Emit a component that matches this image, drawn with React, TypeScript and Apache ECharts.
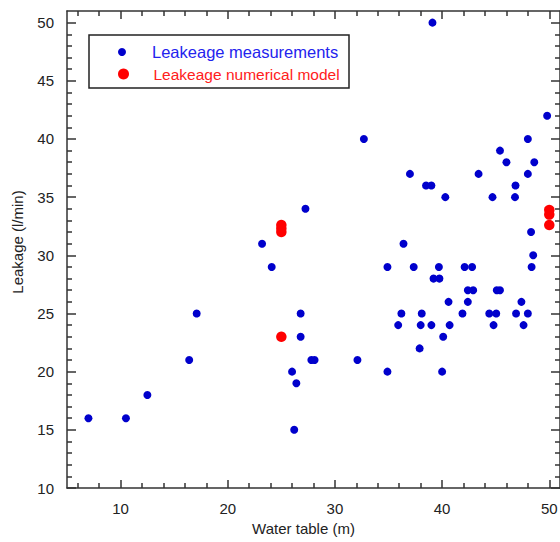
import React, { useEffect, useRef } from "react";
import * as echarts from "echarts";

const measuredX = [
  7, 10.5, 12.5, 16.4, 17.1,
  23.2, 24.1,
  26.2, 26.4, 26, 26.8, 26.8, 27.25,
  27.8, 28.1, 32.1,
  32.7,
  34.9, 34.9, 35.9, 36.2, 36.4, 37, 37.35,
  37.9, 38, 38.1, 38.5, 39, 39, 39.1,
  39.2, 39.7, 39.75, 40, 40.1, 40.3, 40.6, 40.7,
  41.9, 42.1, 42.4, 42.4, 42.8, 42.9, 43.4,
  44.4, 44.7, 44.8, 45.05, 45.1, 45.4, 45.4, 46,
  46.8, 46.85, 46.9, 47.4, 47.6, 48, 48, 48,
  48.35, 48.3, 48.5, 48.6, 49.8,
];
const measuredY = [
  16, 16, 18, 21, 25,
  31, 29,
  15, 19, 20, 23, 25, 34,
  21, 21, 21,
  40,
  20, 29, 24, 25, 31, 37, 29,
  22, 24, 25, 36, 24, 36, 50,
  28, 29, 28, 20, 23, 35, 26, 24,
  25, 29, 26, 27, 29, 27, 37,
  25, 35, 24, 25, 27, 27, 39, 38,
  35, 36, 25, 26, 24, 25, 37, 40,
  29, 32, 30, 38, 42,
];
const modelX = [25, 25, 25, 25, 50, 50, 50];
const modelY = [23, 32.0, 32.3, 32.6, 32.6, 33.5, 33.9];

const xMajorTicks = [10, 20, 30, 40, 50];
const xMinorTicks = [6, 8, 12, 14, 16, 18, 22, 24, 26, 28, 32, 34, 36, 38, 42, 44, 46, 48];
const yMajorTicks = [10, 15, 20, 25, 30, 35, 40, 45, 50];
const yMinorTicks = [
  11, 12, 13, 14, 16, 17, 18, 19, 21, 22, 23, 24, 26, 27, 28, 29,
  31, 32, 33, 34, 36, 37, 38, 39, 41, 42, 43, 44, 46, 47, 48, 49,
];

const seriesMeasured = "Leakeage measurements";
const seriesModel = "Leakeage numerical model";
const xTitle = "Water table (m)";
const yTitle = "Leakage (l/min)";

const FONT = "'Liberation Sans', Arial, sans-serif";
const AXIS_COLOR = "#333";
const TEXT_COLOR = "#222";

export default function App() {
  const ref = useRef<HTMLDivElement>(null);

  useEffect(() => {
    if (!ref.current) return;
    const chart = echarts.init(ref.current, undefined, { renderer: "svg" });

    const lineStyle = { color: AXIS_COLOR, width: 1.5 };
    const xBase = { type: "value", min: 5, max: 51, splitLine: { show: false } };
    const yBase = { type: "value", min: 10, max: 51, splitLine: { show: false } };

    chart.setOption({
      animation: false,
      backgroundColor: "#fff",
      grid: { left: 67, top: 11, width: 493, height: 477, containLabel: false },
      xAxis: [
        {
          ...xBase,
          position: "bottom",
          name: xTitle,
          nameLocation: "middle",
          nameGap: 30,
          nameTextStyle: { fontSize: 15, color: TEXT_COLOR, fontFamily: FONT, padding: [0, 20, 0, 0] },
          axisLine: { show: true, lineStyle },
          axisTick: { show: true, inside: true, length: 8, customValues: xMajorTicks, lineStyle },
          axisLabel: { customValues: xMajorTicks, fontSize: 15, color: TEXT_COLOR, fontFamily: FONT, margin: 13 },
        },
        {
          ...xBase,
          position: "bottom",
          axisLine: { show: false },
          axisTick: { show: true, inside: true, length: 5, customValues: xMinorTicks, lineStyle },
          axisLabel: { show: false },
        },
        {
          ...xBase,
          position: "top",
          axisLine: { show: true, lineStyle },
          axisTick: { show: true, inside: true, length: 8, customValues: xMajorTicks, lineStyle },
          axisLabel: { show: false },
        },
        {
          ...xBase,
          position: "top",
          axisLine: { show: false },
          axisTick: { show: true, inside: true, length: 5, customValues: xMinorTicks, lineStyle },
          axisLabel: { show: false },
        },
      ],
      yAxis: [
        {
          ...yBase,
          position: "left",
          axisLine: { show: true, lineStyle },
          axisTick: { show: true, inside: true, length: 9, customValues: yMajorTicks, lineStyle },
          axisLabel: { customValues: yMajorTicks, fontSize: 15, color: TEXT_COLOR, fontFamily: FONT, margin: 13 },
        },
        {
          ...yBase,
          position: "left",
          axisLine: { show: false },
          axisTick: { show: true, inside: true, length: 5, customValues: yMinorTicks, lineStyle },
          axisLabel: { show: false },
        },
        {
          ...yBase,
          position: "right",
          axisLine: { show: true, lineStyle },
          axisTick: { show: true, inside: true, length: 9, customValues: yMajorTicks, lineStyle },
          axisLabel: { show: false },
        },
        {
          ...yBase,
          position: "right",
          axisLine: { show: false },
          axisTick: { show: true, inside: true, length: 5, customValues: yMinorTicks, lineStyle },
          axisLabel: { show: false },
        },
      ],
      legend: [
        {
          data: [{ name: seriesMeasured, icon: "circle" }],
          left: 118,
          top: 42,
          padding: 0,
          itemWidth: 50,
          itemHeight: 8,
          selectedMode: false,
          textStyle: { color: "#2323ee", fontSize: 16.5, lineHeight: 20, fontFamily: FONT },
        },
        {
          data: [{ name: seriesModel, icon: "circle" }],
          left: 118,
          top: 64,
          padding: 0,
          itemWidth: 50,
          itemHeight: 11,
          selectedMode: false,
          textStyle: { color: "#ff2020", fontSize: 15.5, lineHeight: 20, fontFamily: FONT },
        },
      ],
      graphic: [
        {
          type: "rect",
          shape: { x: 89, y: 35, width: 260, height: 53 },
          style: { fill: "none", stroke: "#222", lineWidth: 1.5 },
          z: 10,
        },
        {
          type: "text",
          x: 17,
          y: 242,
          rotation: Math.PI / 2,
          style: {
            text: yTitle,
            fontSize: 15,
            fontFamily: FONT,
            fill: TEXT_COLOR,
            align: "center",
            verticalAlign: "middle",
          },
        },
      ],
      series: [
        {
          name: seriesMeasured,
          type: "scatter",
          xAxisIndex: 0,
          yAxisIndex: 0,
          symbol: "circle",
          symbolSize: 8,
          itemStyle: { color: "#0000cc", opacity: 1 },
          data: measuredX.map((x, i) => [x, measuredY[i]]),
        },
        {
          name: seriesModel,
          type: "scatter",
          xAxisIndex: 0,
          yAxisIndex: 0,
          symbol: "circle",
          symbolSize: 10.5,
          itemStyle: { color: "#ff0000", opacity: 1 },
          data: modelX.map((x, i) => [x, modelY[i]]),
        },
      ],
    });

    return () => chart.dispose();
  }, []);

  return (
    <div
      ref={ref}
      style={{ position: "fixed", left: 0, top: 0, width: 562, height: 542, background: "#fff" }}
    />
  );
}
